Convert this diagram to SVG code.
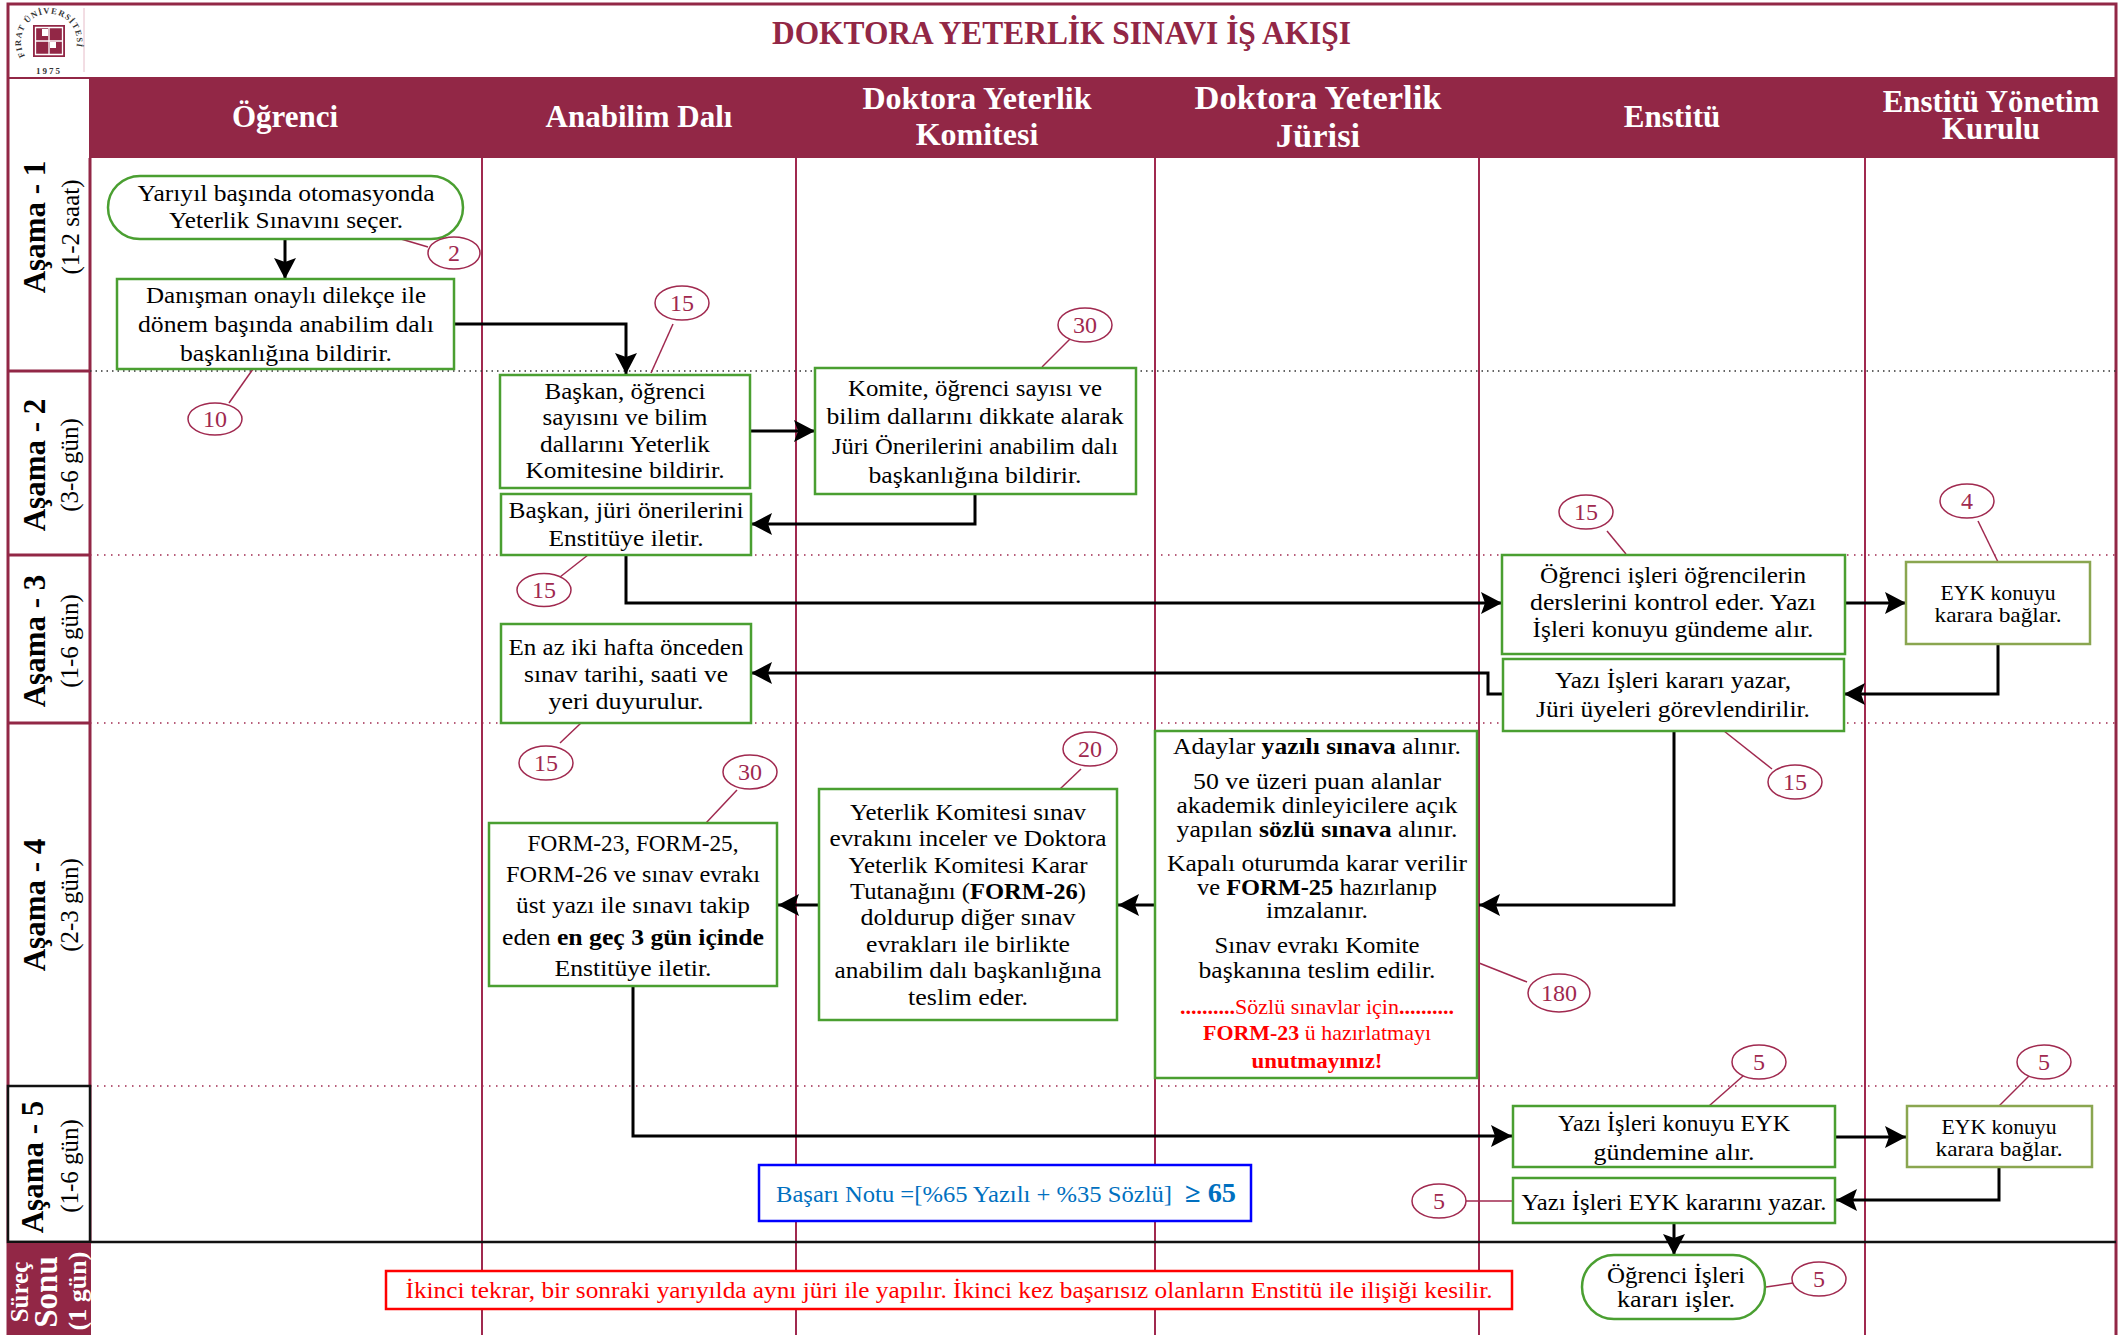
<svg xmlns="http://www.w3.org/2000/svg" width="2118" height="1335" viewBox="0 0 2118 1335">
<style>
text{font-family:"Liberation Serif","Noto Serif",serif;fill:#000;text-anchor:middle}
.t{font-size:24px}
.e{font-size:22px}
.r{font-size:22px;fill:#f00}
.h{font-size:31px;font-weight:700;fill:#fff}
.a{font-size:31px;font-weight:700}
.s{font-size:25px}
.c{font-size:24px;fill:#a0294f}
.n{fill:#fff;stroke:#4a9f31;stroke-width:2.5}
.o{fill:#fff;stroke:#8aa650;stroke-width:2.5}
.ce{fill:#fff;stroke:#a0294f;stroke-width:1.5}
.cl{fill:none;stroke:#a0294f;stroke-width:1.5}
.v{stroke:#a0294f;stroke-width:2;fill:none}
.d{stroke:#a0294f;stroke-width:1.5;stroke-dasharray:1.5 5.5;fill:none}
.d2{stroke:#333;stroke-width:1.5;stroke-dasharray:1.5 4;fill:none}
.k{fill:none;stroke:#000;stroke-width:3;marker-end:url(#ah)}
</style>
<defs>
<marker id="ah" markerUnits="userSpaceOnUse" markerWidth="22" markerHeight="24" refX="21" refY="12" orient="auto"><path d="M0,1 L21,12 L0,23 L4,12 z" fill="#000"/></marker>
<path id="lg" d="M25,56 A28,28 0 1 1 73,56"/>
</defs>
<rect width="2118" height="1335" fill="#fff"/>

<g id="frame">
<rect x="8" y="4" width="2108" height="1345" fill="none" stroke="#922746" stroke-width="3"/>
<line x1="8" y1="78" x2="2116" y2="78" stroke="#922746" stroke-width="2"/>
<line x1="84" y1="8" x2="84" y2="72" stroke="#e6bcc8" stroke-width="1"/>
<rect x="89" y="79" width="2027" height="79" fill="#922746"/>
<line x1="90" y1="158" x2="90" y2="1243" stroke="#922746" stroke-width="3"/>
<line class="v" x1="482" y1="158" x2="482" y2="1335"/>
<line class="v" x1="796" y1="158" x2="796" y2="1335"/>
<line class="v" x1="1155" y1="158" x2="1155" y2="1335"/>
<line class="v" x1="1479" y1="158" x2="1479" y2="1335"/>
<line class="v" x1="1865" y1="158" x2="1865" y2="1335"/>
<line class="d2" x1="90" y1="371" x2="2116" y2="371"/>
<line class="d" x1="90" y1="555" x2="2116" y2="555"/>
<line class="d" x1="90" y1="723" x2="2116" y2="723"/>
<line class="d" x1="90" y1="1086" x2="2116" y2="1086"/>
<line x1="8" y1="371" x2="90" y2="371" stroke="#922746" stroke-width="3"/>
<line x1="8" y1="555" x2="90" y2="555" stroke="#922746" stroke-width="3"/>
<line x1="8" y1="723" x2="90" y2="723" stroke="#922746" stroke-width="3"/>
<rect x="8" y="1086" width="82" height="156" fill="#fff" stroke="#111" stroke-width="2.5"/>
<line x1="8" y1="1242" x2="2116" y2="1242" stroke="#111" stroke-width="2.5"/>
<rect x="7" y="1243" width="84" height="92" fill="#922746"/>
</g>

<g id="logo">
<text font-size="8.5" font-weight="700" letter-spacing="1.1" style="fill:#333;text-anchor:start"><textPath href="#lg">FIRAT ÜNİVERSİTESİ</textPath></text>
<text x="49" y="74" font-size="9" font-weight="700" letter-spacing="2" style="fill:#333">1975</text>
<rect x="33" y="25" width="32" height="32" fill="#922746"/>
<path d="M35.5,27.5H62.5V54.5H35.5Z M49,27.5V41H35.5 M49,41H62.5 M49,41V54.5" fill="none" stroke="#fff" stroke-width="1.3"/>
<rect x="42" y="29" width="6" height="7" fill="#fff"/>
<rect x="50" y="42" width="6" height="6" fill="#fff"/>
</g>

<g id="title"><text x="1061.5" y="44" font-size="33.5" font-weight="700" textLength="579" lengthAdjust="spacingAndGlyphs" style="fill:#922746">DOKTORA YETERLİK SINAVI İŞ AKIŞI</text></g>

<g id="header">
<text class="h" x="285" y="127">Öğrenci</text>
<text class="h" x="639" y="127">Anabilim Dalı</text>
<text class="h" x="977" y="109" style="font-size:32px">Doktora Yeterlik</text>
<text class="h" x="977" y="145" style="font-size:32px">Komitesi</text>
<text class="h" x="1318" y="109" style="font-size:34.5px">Doktora Yeterlik</text>
<text class="h" x="1318" y="147" style="font-size:34.5px">Jürisi</text>
<text class="h" x="1672" y="127">Enstitü</text>
<text class="h" x="1991" y="112">Enstitü Yönetim</text>
<text class="h" x="1991" y="139">Kurulu</text>
</g>

<g id="stages">
<g transform="translate(45,227) rotate(-90)"><text class="a">Aşama - 1</text></g>
<g transform="translate(79,227) rotate(-90)"><text class="s">(1-2 saat)</text></g>
<g transform="translate(45,465) rotate(-90)"><text class="a">Aşama - 2</text></g>
<g transform="translate(78,465) rotate(-90)"><text class="s">(3-6 gün)</text></g>
<g transform="translate(45,641) rotate(-90)"><text class="a">Aşama - 3</text></g>
<g transform="translate(78,641) rotate(-90)"><text class="s">(1-6 gün)</text></g>
<g transform="translate(45,905) rotate(-90)"><text class="a">Aşama - 4</text></g>
<g transform="translate(78,905) rotate(-90)"><text class="s">(2-3 gün)</text></g>
<g transform="translate(43,1167) rotate(-90)"><text class="a">Aşama - 5</text></g>
<g transform="translate(78,1166) rotate(-90)"><text class="s">(1-6 gün)</text></g>
<g transform="translate(28,1292) rotate(-90)"><text font-size="25" font-weight="700" style="fill:#fff">Süreç</text></g>
<g transform="translate(57,1292) rotate(-90)"><text font-size="33" font-weight="700" style="fill:#fff">Sonu</text></g>
<g transform="translate(86,1291) rotate(-90)"><text font-size="26" font-weight="700" style="fill:#fff">(1 gün)</text></g>
</g>

<g id="connectors">
<path class="k" d="M285,239V279"/>
<path class="k" d="M454,324H626V374"/>
<path class="k" d="M750,431H815"/>
<path class="k" d="M975,494V524H751"/>
<path class="k" d="M626,555V603H1502"/>
<path class="k" d="M1845,603H1906"/>
<path class="k" d="M1998,644V694H1844"/>
<path class="k" d="M1502,694H1488V673H751"/>
<path class="k" d="M1674,731V905H1479"/>
<path class="k" d="M1155,905H1118"/>
<path class="k" d="M819,905H778"/>
<path class="k" d="M633,986V1136H1512"/>
<path class="k" d="M1835,1137H1906"/>
<path class="k" d="M1999,1167V1200H1836"/>
<path class="k" d="M1674,1223V1255"/>
<path class="cl" d="M401,239L428,247"/>
<path class="cl" d="M253,369L229,403"/>
<path class="cl" d="M651,373L673,324"/>
<path class="cl" d="M1042,367L1070,339"/>
<path class="cl" d="M588,555L560,577"/>
<path class="cl" d="M1626,554L1607,531"/>
<path class="cl" d="M1998,562L1978,521"/>
<path class="cl" d="M581,723L560,743"/>
<path class="cl" d="M1724,731L1772,769"/>
<path class="cl" d="M1060,789L1081,769"/>
<path class="cl" d="M706,823L737,790"/>
<path class="cl" d="M1479,963L1527,982"/>
<path class="cl" d="M1709,1106L1743,1076"/>
<path class="cl" d="M1999,1106L2029,1076"/>
<path class="cl" d="M1466,1201H1513"/>
<path class="cl" d="M1766,1287L1793,1283"/>
</g>

<g id="n1"><rect class="n" x="108" y="176" width="355" height="63" rx="32"/><text class="t" x="286" y="201" textLength="297" lengthAdjust="spacingAndGlyphs">Yarıyıl başında otomasyonda</text><text class="t" x="286" y="228" textLength="234" lengthAdjust="spacingAndGlyphs">Yeterlik Sınavını seçer.</text></g>
<g id="n2"><rect class="n" x="117" y="279" width="337" height="90"/><text class="t" x="286" y="303" textLength="280" lengthAdjust="spacingAndGlyphs">Danışman onaylı dilekçe ile</text><text class="t" x="286" y="332" textLength="296" lengthAdjust="spacingAndGlyphs">dönem başında anabilim dalı</text><text class="t" x="286" y="361" textLength="212" lengthAdjust="spacingAndGlyphs">başkanlığına bildirir.</text></g>
<g id="n3"><rect class="n" x="500" y="375" width="250" height="113"/><text class="t" x="625" y="399" textLength="161" lengthAdjust="spacingAndGlyphs">Başkan, öğrenci</text><text class="t" x="625" y="425" textLength="165" lengthAdjust="spacingAndGlyphs">sayısını ve bilim</text><text class="t" x="625" y="452" textLength="170" lengthAdjust="spacingAndGlyphs">dallarını Yeterlik</text><text class="t" x="625" y="478" textLength="199" lengthAdjust="spacingAndGlyphs">Komitesine bildirir.</text></g>
<g id="n4"><rect class="n" x="815" y="368" width="321" height="126"/><text class="t" x="975" y="396" textLength="254" lengthAdjust="spacingAndGlyphs">Komite, öğrenci sayısı ve</text><text class="t" x="975" y="424" textLength="297" lengthAdjust="spacingAndGlyphs">bilim dallarını dikkate alarak</text><text class="t" x="975" y="454" textLength="286" lengthAdjust="spacingAndGlyphs">Jüri Önerilerini anabilim dalı</text><text class="t" x="975" y="483" textLength="213" lengthAdjust="spacingAndGlyphs">başkanlığına bildirir.</text></g>
<g id="n5"><rect class="n" x="501" y="494" width="250" height="61"/><text class="t" x="626" y="518" textLength="235" lengthAdjust="spacingAndGlyphs">Başkan, jüri önerilerini</text><text class="t" x="626" y="546" textLength="155" lengthAdjust="spacingAndGlyphs">Enstitüye iletir.</text></g>
<g id="n6"><rect class="n" x="1502" y="555" width="343" height="99"/><text class="t" x="1673" y="583" textLength="266" lengthAdjust="spacingAndGlyphs">Öğrenci işleri öğrencilerin</text><text class="t" x="1673" y="610" textLength="286" lengthAdjust="spacingAndGlyphs">derslerini kontrol eder. Yazı</text><text class="t" x="1673" y="637" textLength="281" lengthAdjust="spacingAndGlyphs">İşleri konuyu gündeme alır.</text></g>
<g id="n7"><rect class="o" x="1906" y="562" width="184" height="82"/><text class="e" x="1998" y="600" textLength="115" lengthAdjust="spacingAndGlyphs">EYK konuyu</text><text class="e" x="1998" y="622" textLength="127" lengthAdjust="spacingAndGlyphs">karara bağlar.</text></g>
<g id="n8"><rect class="n" x="1503" y="659" width="341" height="72"/><text class="t" x="1673" y="688" textLength="236" lengthAdjust="spacingAndGlyphs">Yazı İşleri kararı yazar,</text><text class="t" x="1673" y="717" textLength="274" lengthAdjust="spacingAndGlyphs">Jüri üyeleri görevlendirilir.</text></g>
<g id="n9"><rect class="n" x="501" y="624" width="250" height="99"/><text class="t" x="626" y="655" textLength="235" lengthAdjust="spacingAndGlyphs">En az iki hafta önceden</text><text class="t" x="626" y="682" textLength="204" lengthAdjust="spacingAndGlyphs">sınav tarihi, saati ve</text><text class="t" x="626" y="709" textLength="155" lengthAdjust="spacingAndGlyphs">yeri duyurulur.</text></g>
<g id="n10"><rect class="n" x="1155" y="731" width="322" height="347"/>
<text class="t" x="1317" y="754" textLength="288" lengthAdjust="spacingAndGlyphs">Adaylar <tspan font-weight="700">yazılı sınava</tspan> alınır.</text>
<text class="t" x="1317" y="789" textLength="248" lengthAdjust="spacingAndGlyphs">50 ve üzeri puan alanlar</text>
<text class="t" x="1317" y="813" textLength="281" lengthAdjust="spacingAndGlyphs">akademik dinleyicilere açık</text>
<text class="t" x="1317" y="837" textLength="281" lengthAdjust="spacingAndGlyphs">yapılan <tspan font-weight="700">sözlü sınava</tspan> alınır.</text>
<text class="t" x="1317" y="871" textLength="300" lengthAdjust="spacingAndGlyphs">Kapalı oturumda karar verilir</text>
<text class="t" x="1317" y="895" textLength="240" lengthAdjust="spacingAndGlyphs">ve <tspan font-weight="700">FORM-25</tspan> hazırlanıp</text>
<text class="t" x="1317" y="918" textLength="102" lengthAdjust="spacingAndGlyphs">imzalanır.</text>
<text class="t" x="1317" y="953" textLength="205" lengthAdjust="spacingAndGlyphs">Sınav evrakı Komite</text>
<text class="t" x="1317" y="978" textLength="237" lengthAdjust="spacingAndGlyphs">başkanına teslim edilir.</text>
<text class="r" x="1317" y="1014" textLength="274" lengthAdjust="spacingAndGlyphs"><tspan font-weight="700">..........</tspan>Sözlü sınavlar için<tspan font-weight="700">..........</tspan></text>
<text class="r" x="1317" y="1040" textLength="228" lengthAdjust="spacingAndGlyphs"><tspan font-weight="700">FORM-23</tspan> ü hazırlatmayı</text>
<text class="r" x="1317" y="1068" textLength="131" lengthAdjust="spacingAndGlyphs" font-weight="700">unutmayınız!</text></g>
<g id="n11"><rect class="n" x="819" y="789" width="298" height="231"/>
<text class="t" x="968" y="820" textLength="236" lengthAdjust="spacingAndGlyphs">Yeterlik Komitesi sınav</text>
<text class="t" x="968" y="846" textLength="277" lengthAdjust="spacingAndGlyphs">evrakını inceler ve Doktora</text>
<text class="t" x="968" y="873" textLength="239" lengthAdjust="spacingAndGlyphs">Yeterlik Komitesi Karar</text>
<text class="t" x="968" y="899" textLength="236" lengthAdjust="spacingAndGlyphs">Tutanağını (<tspan font-weight="700">FORM-26</tspan>)</text>
<text class="t" x="968" y="925" textLength="215" lengthAdjust="spacingAndGlyphs">doldurup diğer sınav</text>
<text class="t" x="968" y="952" textLength="204" lengthAdjust="spacingAndGlyphs">evrakları ile birlikte</text>
<text class="t" x="968" y="978" textLength="267" lengthAdjust="spacingAndGlyphs">anabilim dalı başkanlığına</text>
<text class="t" x="968" y="1005" textLength="120" lengthAdjust="spacingAndGlyphs">teslim eder.</text></g>
<g id="n12"><rect class="n" x="489" y="823" width="288" height="163"/>
<text class="t" x="633" y="851" textLength="211" lengthAdjust="spacingAndGlyphs">FORM-23, FORM-25,</text>
<text class="t" x="633" y="882" textLength="254" lengthAdjust="spacingAndGlyphs">FORM-26 ve sınav evrakı</text>
<text class="t" x="633" y="913" textLength="234" lengthAdjust="spacingAndGlyphs">üst yazı ile sınavı takip</text>
<text class="t" x="633" y="945" textLength="262" lengthAdjust="spacingAndGlyphs">eden <tspan font-weight="700">en geç 3 gün içinde</tspan></text>
<text class="t" x="633" y="976" textLength="157" lengthAdjust="spacingAndGlyphs">Enstitüye iletir.</text></g>
<g id="n13"><rect class="n" x="1513" y="1106" width="322" height="61"/><text class="t" x="1674" y="1131" textLength="232" lengthAdjust="spacingAndGlyphs">Yazı İşleri konuyu EYK</text><text class="t" x="1674" y="1160" textLength="161" lengthAdjust="spacingAndGlyphs">gündemine alır.</text></g>
<g id="n14"><rect class="o" x="1907" y="1106" width="185" height="61"/><text class="e" x="1999" y="1134" textLength="115" lengthAdjust="spacingAndGlyphs">EYK konuyu</text><text class="e" x="1999" y="1156" textLength="127" lengthAdjust="spacingAndGlyphs">karara bağlar.</text></g>
<g id="n15"><rect class="n" x="1513" y="1178" width="322" height="45"/><text class="t" x="1674" y="1210" textLength="305" lengthAdjust="spacingAndGlyphs">Yazı İşleri EYK kararını yazar.</text></g>
<g id="n16"><rect class="n" x="1582" y="1255" width="183" height="64" rx="32"/><text class="t" x="1676" y="1283" textLength="138" lengthAdjust="spacingAndGlyphs">Öğrenci İşleri</text><text class="t" x="1676" y="1307" textLength="118" lengthAdjust="spacingAndGlyphs">kararı işler.</text></g>
<g id="n17"><rect x="759" y="1165" width="492" height="56" fill="#fff" stroke="#00f" stroke-width="2.5"/><text x="776" y="1202" font-size="24" textLength="396" lengthAdjust="spacingAndGlyphs" style="fill:#0070c0;text-anchor:start">Başarı Notu =[%65 Yazılı + %35 Sözlü]</text><text x="1185" y="1202" font-size="27" font-weight="700" textLength="51" lengthAdjust="spacingAndGlyphs" style="fill:#0070c0;text-anchor:start">≥ 65</text></g>
<g id="n18"><rect x="386" y="1271" width="1126" height="38" fill="#fff" stroke="#f00" stroke-width="2.5"/><text x="949" y="1298" font-size="24" textLength="1087" lengthAdjust="spacingAndGlyphs" style="fill:#f00">İkinci tekrar, bir sonraki yarıyılda aynı jüri ile yapılır. İkinci kez başarısız olanların Enstitü ile ilişiği kesilir.</text></g>

<g id="callouts">
<g id="c1"><ellipse class="ce" cx="454" cy="253" rx="26" ry="16"/><text class="c" x="454" y="261">2</text></g>
<g id="c2"><ellipse class="ce" cx="215" cy="419" rx="27" ry="16"/><text class="c" x="215" y="427">10</text></g>
<g id="c3"><ellipse class="ce" cx="682" cy="303" rx="27" ry="17"/><text class="c" x="682" y="311">15</text></g>
<g id="c4"><ellipse class="ce" cx="1085" cy="325" rx="27" ry="17"/><text class="c" x="1085" y="333">30</text></g>
<g id="c5"><ellipse class="ce" cx="544" cy="590" rx="27" ry="16.5"/><text class="c" x="544" y="598">15</text></g>
<g id="c6"><ellipse class="ce" cx="1586" cy="512" rx="27" ry="17"/><text class="c" x="1586" y="520">15</text></g>
<g id="c7"><ellipse class="ce" cx="1967" cy="501" rx="27" ry="17"/><text class="c" x="1967" y="509">4</text></g>
<g id="c8"><ellipse class="ce" cx="546" cy="763" rx="27" ry="17"/><text class="c" x="546" y="771">15</text></g>
<g id="c9"><ellipse class="ce" cx="1795" cy="782" rx="27" ry="17"/><text class="c" x="1795" y="790">15</text></g>
<g id="c10"><ellipse class="ce" cx="1090" cy="749" rx="27" ry="17"/><text class="c" x="1090" y="757">20</text></g>
<g id="c11"><ellipse class="ce" cx="750" cy="772" rx="27" ry="17"/><text class="c" x="750" y="780">30</text></g>
<g id="c12"><ellipse class="ce" cx="1559" cy="993" rx="31" ry="19"/><text class="c" x="1559" y="1001">180</text></g>
<g id="c13"><ellipse class="ce" cx="1759" cy="1062" rx="27" ry="17"/><text class="c" x="1759" y="1070">5</text></g>
<g id="c14"><ellipse class="ce" cx="2044" cy="1062" rx="27" ry="17"/><text class="c" x="2044" y="1070">5</text></g>
<g id="c15"><ellipse class="ce" cx="1439" cy="1201" rx="27" ry="17"/><text class="c" x="1439" y="1209">5</text></g>
<g id="c16"><ellipse class="ce" cx="1819" cy="1279" rx="27" ry="17"/><text class="c" x="1819" y="1287">5</text></g>
</g>
</svg>
